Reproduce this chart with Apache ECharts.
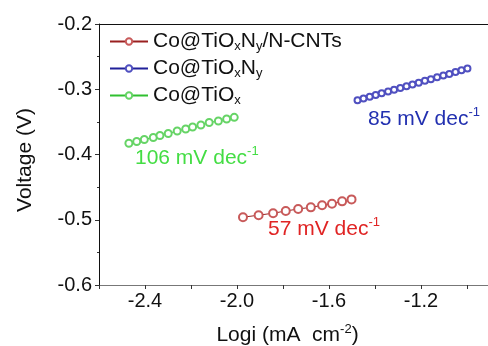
<!DOCTYPE html>
<html>
<head>
<meta charset="utf-8">
<script src="https://cdn.jsdelivr.net/npm/echarts@6/dist/echarts.min.js"></script>
<style>
  html, body { margin: 0; padding: 0; background: #fff; }
  #chart { width: 488px; height: 346px; }
</style>
</head>
<body>
<div id="chart"></div>
<script>
// series names (legend)
var names = ['Co@TiOxNy/N-CNTs', 'Co@TiOxNy', 'Co@TiOx'];

// Co@TiOxNy/N-CNTs
var redX = [-1.974, -1.906, -1.843, -1.788, -1.734, -1.679, -1.630, -1.587, -1.543, -1.502];
var redY = [-0.4961, -0.4930, -0.4900, -0.4866, -0.4835, -0.4810, -0.4779, -0.4755, -0.4718, -0.4688];

// Co@TiOxNy
var blueX = [-1.476, -1.450, -1.423, -1.397, -1.371, -1.343, -1.317, -1.290, -1.263, -1.237,
             -1.210, -1.183, -1.157, -1.130, -1.103, -1.077, -1.050, -1.024, -0.998];
var blueY = [-0.3168, -0.3141, -0.3115, -0.3090, -0.3062, -0.3035, -0.3008, -0.2980, -0.2955, -0.2926,
             -0.2899, -0.2871, -0.2845, -0.2818, -0.2791, -0.2765, -0.2737, -0.2710, -0.2683];

// Co@TiOx
var greenX = [-2.470, -2.436, -2.403, -2.364, -2.335, -2.299, -2.260, -2.223, -2.193, -2.157, -2.121, -2.081, -2.045, -2.012];
var greenY = [-0.3828, -0.3801, -0.3770, -0.3739, -0.3709, -0.3678, -0.3640, -0.3609, -0.3579, -0.3548, -0.3510, -0.3487, -0.3456, -0.3430];

// tick labels shown on x axis
var xLabels = [-2.4, -2.0, -1.6, -1.2];

var font = 'Liberation Sans, Arial, sans-serif';

function pairs(xs, ys){
  var out = [];
  for(var i=0;i<xs.length;i++){
    out.push([xs[i], ys[i]]);
  }
  return out;
}

var legendRich = {
  sub: { fontSize: 13, fontFamily: font, color: '#111', padding: [10, 0, 0, 0] }
};

function note(txt, c){
  return {
    text: '{n|' + txt + '}{s|-1}',
    rich: {
      n: { fontSize: 21, fontFamily: font, fill: c, lineHeight: 24 },
      s: { fontSize: 13, fontFamily: font, fill: c, padding: [0, 0, 13, 0] }
    }
  };
}

var myChart = echarts.init(document.getElementById('chart'));

var option = {
  animation: false,
  textStyle: { fontFamily: font },
  grid: { left: 99, top: 24, right: -2, bottom: 61, outerBoundsMode: 'none', containLabel: false },
  legend: {
    orient: 'vertical',
    left: 104,
    top: 26,
    itemWidth: 38,
    itemHeight: 8,
    itemGap: 5,
    data: names,
    textStyle: { fontSize: 21, color: '#111', fontFamily: font, rich: legendRich },
    formatter: function(name){
      if(name === names[0]) return 'Co@TiO{sub|x}N{sub|y}/N-CNTs';
      if(name === names[1]) return 'Co@TiO{sub|x}N{sub|y}';
      return 'Co@TiO{sub|x}';
    }
  },
  xAxis: [{
    type: 'value',
    min: -2.6,
    max: -0.9,
    interval: 0.2,
    name: 'Logi (mA  cm{sup|-2})',
    nameLocation: 'middle',
    nameGap: 38,
    nameTextStyle: {
      fontSize: 21, color: '#111', fontFamily: font, padding: [0, 14, 0, 0],
      rich: { sup: { fontSize: 13, fontFamily: font, color: '#111', padding: [0, 0, 11, 0] } }
    },
    axisLine: { show: true, onZero: false, lineStyle: { color: '#777', width: 1 } },
    axisTick: { show: true, inside: false, length: 4, lineStyle: { color: '#333' } },
    axisLabel: {
      fontSize: 20, color: '#111', margin: 6,
      formatter: function(v){
        for(var i=0;i<xLabels.length;i++){
          if(Math.abs(v - xLabels[i]) < 1e-6) return xLabels[i].toFixed(1);
        }
        return '';
      }
    },
    splitLine: { show: false }
  }, {
    type: 'value',
    position: 'top',
    min: -2.6,
    max: -0.9,
    axisLine: { show: true, onZero: false, lineStyle: { color: '#111', width: 1 } },
    axisTick: { show: false },
    axisLabel: { show: false },
    splitLine: { show: false }
  }],
  yAxis: {
    type: 'value',
    min: -0.6,
    max: -0.2,
    interval: 0.1,
    name: 'Voltage (V)',
    nameLocation: 'middle',
    nameGap: 63,
    nameTextStyle: { fontSize: 21, color: '#111', fontFamily: font, padding: [0, 11, 0, 0] },
    axisLine: { show: true, onZero: false, lineStyle: { color: '#111', width: 1 } },
    axisTick: { show: true, inside: false, length: 4, lineStyle: { color: '#333' } },
    minorTick: { show: true, splitNumber: 2, length: 2, lineStyle: { color: '#333' } },
    axisLabel: {
      fontSize: 20, color: '#111', margin: 7,
      formatter: function(v){ return v.toFixed(1); }
    },
    splitLine: { show: false }
  },
  series: [{
    name: names[0],
    type: 'line',
    data: pairs(redX, redY),
    symbol: 'emptyCircle',
    symbolSize: 8,
    lineStyle: { color: '#9a2020', width: 1 },
    itemStyle: { color: '#c85a5a', borderWidth: 1 }
  }, {
    name: names[1],
    type: 'line',
    data: pairs(blueX, blueY),
    symbol: 'emptyCircle',
    symbolSize: 6,
    lineStyle: { color: '#20209a', width: 1 },
    itemStyle: { color: '#5050c0', borderWidth: 1 }
  }, {
    name: names[2],
    type: 'line',
    data: pairs(greenX, greenY),
    symbol: 'emptyCircle',
    symbolSize: 7,
    lineStyle: { color: '#30c030', width: 1 },
    itemStyle: { color: '#66d466', borderWidth: 1 }
  }],
  graphic: [{
    type: 'text', left: 368, top: 106,
    style: note('85 mV dec', '#2230b0')
  }, {
    type: 'text', left: 135, top: 145,
    style: note('106 mV dec', '#44dd44')
  }, {
    type: 'text', left: 268, top: 216,
    style: note('57 mV dec', '#e02424')
  }]
};

myChart.setOption(option);
</script>
</body>
</html>
